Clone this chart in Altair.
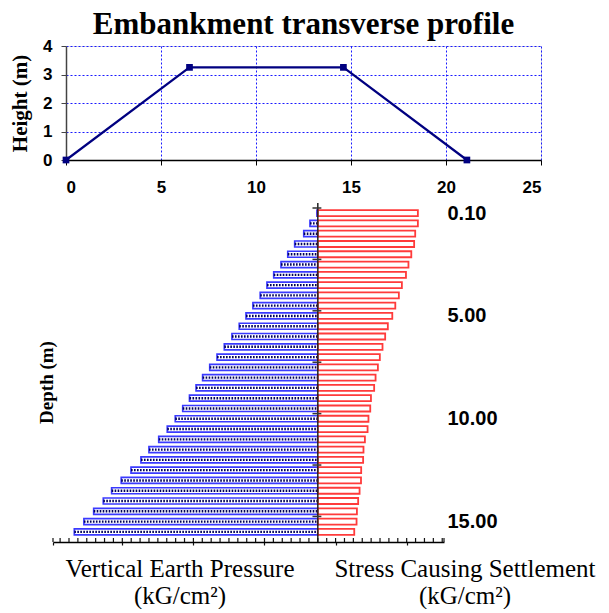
import altair as alt
import pandas as pd
import numpy as np

# ---------------- data ----------------
# Embankment transverse profile (distance m, height m)
profile_x = [0.0, 6.5, 14.6, 21.1]
profile_h = [0.0, 3.25, 3.25, 0.0]

# Depth categories (m)
depth = [0.10, 0.50, 1.00, 1.50, 2.00, 2.50, 3.00, 3.50, 4.00, 4.50,
         5.00, 5.50, 6.00, 6.50, 7.00, 7.50, 8.00, 8.50, 9.00, 9.50,
         10.00, 10.50, 11.00, 11.50, 12.00, 12.50, 13.00, 13.50, 14.00, 14.50,
         15.00, 15.50]
# Vertical earth pressure (kG/cm2)
pressure = [0.005, 0.044, 0.079, 0.130, 0.169, 0.207, 0.248, 0.286, 0.324, 0.365,
            0.404, 0.442, 0.483, 0.526, 0.567, 0.608, 0.648, 0.685, 0.722, 0.760,
            0.802, 0.847, 0.895, 0.950, 0.995, 1.051, 1.106, 1.160, 1.207, 1.261,
            1.316, 1.370]
# Stress causing settlement (kG/cm2)
stress = [0.563, 0.563, 0.548, 0.542, 0.526, 0.510, 0.496, 0.473, 0.456, 0.436,
          0.419, 0.394, 0.379, 0.364, 0.349, 0.338, 0.325, 0.317, 0.299, 0.295,
          0.285, 0.280, 0.265, 0.257, 0.255, 0.244, 0.243, 0.235, 0.227, 0.220,
          0.218, 0.205]

x_ticks_top = [0, 5, 10, 15, 20, 25]
y_ticks_top = [0, 1, 2, 3, 4]
pressure_axis_min, pressure_axis_max, pressure_tick_step = -1.49, 0.71, 0.05
label_every = 10
boundary_every = 5

SERIF = "Liberation Serif"
SANS = "Liberation Sans"

# ---------------- top chart ----------------
prof = pd.DataFrame({"x": profile_x, "h": profile_h})
grid_color = {"condition": {"test": "datum.value === 0", "value": "transparent"},
              "value": "#1a1aff"}

top = alt.Chart(prof).mark_line(
    color="#000080", strokeWidth=2.2,
    point=alt.OverlayMarkDef(shape="square", size=45, color="#000080", filled=True, opacity=1),
).encode(
    x=alt.X("x:Q", scale=alt.Scale(domain=[0, 25], nice=False),
            axis=alt.Axis(values=x_ticks_top, title=None, grid=True, gridColor=grid_color,
                          gridDash=[2, 2], gridWidth=1, domain=True, domainColor="#000",
                          domainWidth=1.5, ticks=True, tickColor="#000", tickSize=5,
                          labelPadding=14, labelFont=SANS, labelFontSize=17,
                          labelFontWeight="bold", labelColor="#000")),
    y=alt.Y("h:Q", scale=alt.Scale(domain=[0, 4], nice=False),
            axis=alt.Axis(values=y_ticks_top, title="Height (m)", grid=True, gridColor=grid_color,
                          gridDash=[2, 2], gridWidth=1, domain=True, domainColor="#444",
                          domainWidth=1.5, ticks=True, tickColor="#444", tickSize=5,
                          labelPadding=9, labelFont=SANS, labelFontSize=17,
                          labelFontWeight="bold", labelColor="#000", titleFont=SERIF,
                          titleFontSize=21, titleFontWeight="bold", titleColor="#000",
                          titlePadding=12)),
).properties(
    width=475, height=114,
    title=alt.TitleParams("Embankment transverse profile", font=SERIF, fontSize=31,
                          fontWeight="bold", color="#000", anchor="middle", offset=-4),
)

# ---------------- bottom chart ----------------
n = len(depth)
df = pd.DataFrame({"idx": list(range(n)), "depth": depth,
                   "pressure": pressure, "stress": stress})
df["neg"] = -df["pressure"]

label_map = {i: f"{depth[i]:.2f}" for i in range(0, n, label_every)}
label_expr = "{" + ",".join(f"'{k}':'{v}'" for k, v in label_map.items()) + "}[datum.value]"

xsb = alt.Scale(domain=[pressure_axis_min, pressure_axis_max], range=[-13, 378],
                nice=False, zero=False)
ysb = alt.Scale(domain=[-0.5, n - 0.5], reverse=True, nice=False, zero=False)

k0 = int(np.ceil(pressure_axis_min / pressure_tick_step - 1e-9))
k1 = int(np.floor(pressure_axis_max / pressure_tick_step + 1e-9))
tick_vals = [pressure_axis_min] + [round(k * pressure_tick_step, 2) for k in range(k0, k1 + 1)] + [pressure_axis_max]

x_axis_b = alt.Axis(values=tick_vals, labels=False, title=None, grid=False,
                    domain=True, domainColor="#000", domainWidth=1.5, ticks=True,
                    tickColor="#111", tickSize=3, tickWidth=1.2)
y_axis_b = alt.Axis(orient="right", values=list(label_map.keys()), labelExpr=label_expr,
                    ticks=False, domain=False, grid=False, labelPadding=3,
                    labelFont=SANS, labelFontSize=20, labelFontWeight="bold",
                    labelColor="#000", labelAlign="left", labelBaseline="middle",
                    title="Depth (m)", titleFont=SERIF, titleFontSize=19,
                    titleFontWeight="bold", titleColor="#000", titleAngle=270,
                    titleX=-398, titleY=179, titleAlign="center", titleBaseline="middle")

X = lambda f: alt.X(f, scale=xsb, axis=x_axis_b)
Y = lambda f: alt.Y(f, scale=ysb, axis=y_axis_b)

base = alt.Chart(df)

blue_bars = base.mark_bar(orient="horizontal", size=6, fill="white",
                          stroke="#3a3aff", strokeWidth=1.7).encode(
    x=X("neg:Q"), x2=alt.datum(0), y=Y("idx:Q"),
)
blue_dots = base.mark_rule(color="#00005a", strokeWidth=2.4, strokeDash=[1.6, 1.4]).encode(
    x=X("neg:Q"), x2=alt.datum(0), y=Y("idx:Q"),
)
red_bars = base.mark_bar(orient="horizontal", size=6, fill="white",
                         stroke="#ff3b3b", strokeWidth=1.8).encode(
    x=X("stress:Q"), x2=alt.datum(0), y=Y("idx:Q"),
)

center = alt.Chart(pd.DataFrame({"v": [0.0]})).mark_rule(color="#222", strokeWidth=1.5).encode(
    x=X("v:Q")
)

bounds = pd.DataFrame({"b": [i - 0.5 for i in range(0, n, boundary_every)]})
center_ticks = alt.Chart(bounds).mark_rule(color="#333", strokeWidth=1.5).encode(
    x=alt.datum(-0.03), x2=alt.datum(0.02), y=Y("b:Q"),
)

up_ticks = alt.Chart(pd.DataFrame({"t": tick_vals})).mark_rule(color="#111", strokeWidth=1.2).encode(
    x=X("t:Q"), y=alt.value(335), y2=alt.value(339),
)

# plain white cover for the plot-area left edge (keeps the frame open like the original)
edge_cover = alt.Chart(pd.DataFrame({"a": [0]})).mark_rule(color="white", strokeWidth=3).encode(
    x=alt.value(0), y=alt.value(0), y2=alt.value(337),
)

txt_kw = dict(font=SERIF, fontSize=25, color="#000", align="center", baseline="middle")
t1 = alt.Chart(pd.DataFrame({"a": [0]})).mark_text(text="Vertical Earth Pressure", x=114, y=366, **txt_kw).encode()
t2 = alt.Chart(pd.DataFrame({"a": [0]})).mark_text(text="(kG/cm²)", x=114, y=393, **txt_kw).encode()
t3 = alt.Chart(pd.DataFrame({"a": [0]})).mark_text(text="Stress Causing Settlement", x=399, y=366, **txt_kw).encode()
t4 = alt.Chart(pd.DataFrame({"a": [0]})).mark_text(text="(kG/cm²)", x=399, y=393, **txt_kw).encode()

bottom = alt.layer(blue_bars, blue_dots, red_bars, center, center_ticks, up_ticks,
                   edge_cover, t1, t2, t3, t4).properties(
    width=378, height=339,
    view=alt.ViewBackground(stroke="transparent", strokeWidth=0),
)

chart = alt.vconcat(top, bottom, spacing=5).properties(
    padding={"left": 1, "top": 0, "right": 0, "bottom": 0}
).configure_view(stroke="transparent", strokeWidth=0).configure_axis(
    domain=False, ticks=False, grid=False,
    domainColor="transparent", tickColor="transparent"
).configure(background="white")

chart.save("out.html", embed_options={"renderer": "svg", "actions": False})
